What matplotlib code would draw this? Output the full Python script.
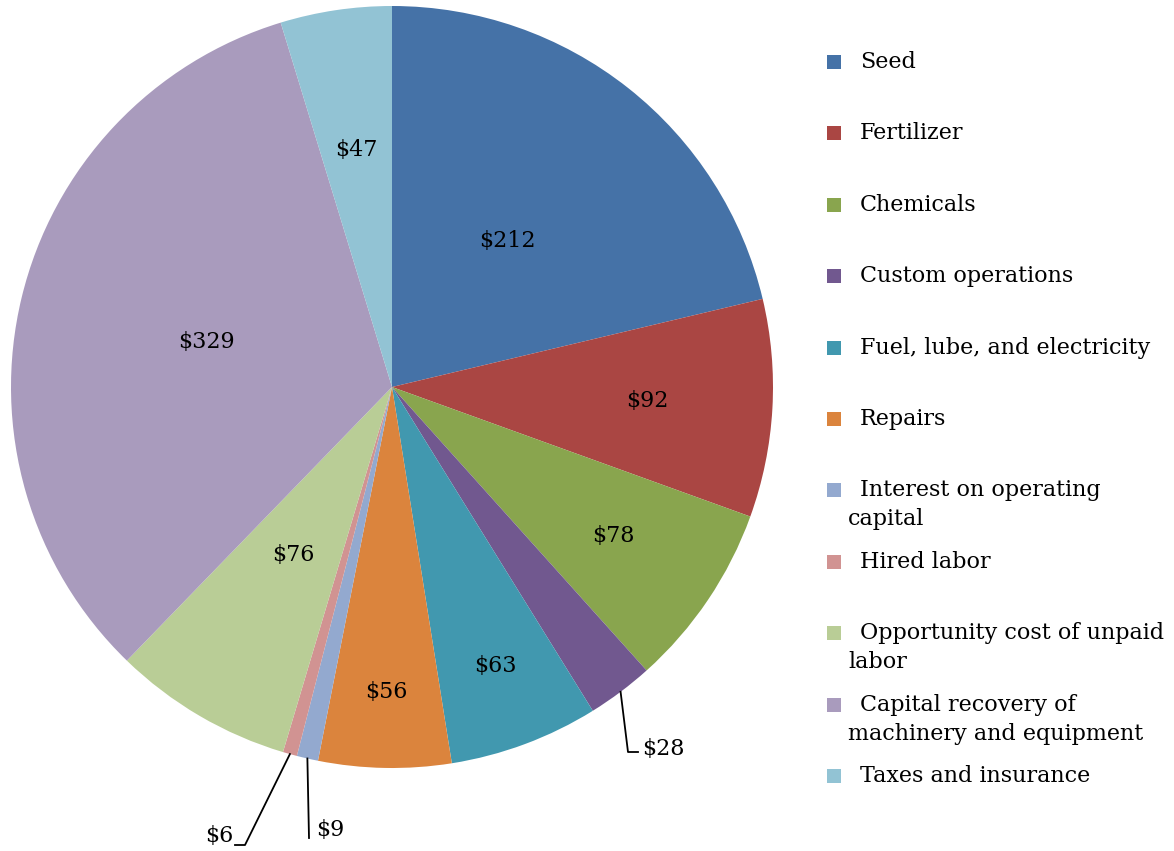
import numpy as np
import matplotlib.pyplot as plt
from matplotlib.patches import Rectangle

# cost items (per acre), clockwise from 12 o'clock
items = ['Seed', 'Fertilizer', 'Chemicals', 'Custom operations',
         'Fuel, lube, and electricity', 'Repairs',
         'Interest on operating\ncapital', 'Hired labor',
         'Opportunity cost of unpaid\nlabor',
         'Capital recovery of\nmachinery and equipment',
         'Taxes and insurance']
costs = [212, 92, 78, 28, 63, 56, 9, 6, 76, 329, 47]
colors = ['#4572A7', '#AA4643', '#89A54E', '#71588F', '#4198AF', '#DB843D',
          '#93A9CF', '#D19392', '#B9CD96', '#A99BBD', '#92C3D4']

W, H = 1174, 851
cx, cy, R = 392, 387, 381
FONT = 'DejaVu Serif'
FS = 16

# label radius (fraction of R) for inside labels, None -> callout
lab_r = [0.49, 0.67, 0.70, None, 0.78, 0.80, None, None, 0.51, 0.50, 0.63]
# callout: (elbow pt, end pt, text pos, ha) in pixel coords
callouts = {3: ((628, 752), (638, 752), (642, 749), 'left'),
            6: ((309, 838), (309, 838), (316, 830), 'left'),
            7: ((245, 845), (235, 845), (233, 836), 'right')}

fig = plt.figure(figsize=(W / 100, H / 100), dpi=100)
ax = fig.add_axes([0, 0, 1, 1])
ax.set_xlim(0, W)
ax.set_ylim(0, H)
ax.axis('off')

def py(y):
    return H - y

wedges, _ = ax.pie(costs, colors=colors, startangle=90, counterclock=False,
                   radius=R, center=(cx, py(cy)), frame=True)
ax.set_xlim(0, W)
ax.set_ylim(0, H)
ax.set_aspect('equal')
ax.axis('off')

tot = float(sum(costs))
cum = np.cumsum([0] + costs)
for i, v in enumerate(costs):
    mid = (cum[i] + v / 2.0) / tot * 360.0
    ang = np.deg2rad(90 - mid)
    if lab_r[i] is not None:
        r = lab_r[i] * R
        ax.text(cx + r * np.cos(ang), py(cy) + r * np.sin(ang), '$%d' % v,
                ha='center', va='center', family=FONT, fontsize=FS)
    else:
        x0 = cx + R * np.cos(ang)
        y0 = py(cy) + R * np.sin(ang)
        (ex, ey), (fx, fy), (tx, ty), ha = callouts[i]
        ax.plot([x0, ex, fx], [y0, py(ey), py(fy)], color='black', lw=1.3)
        ax.text(tx, py(ty), '$%d' % v, ha=ha, va='center',
                family=FONT, fontsize=FS)

# legend
for i, name in enumerate(items):
    y = 62 + 71.4 * i
    ax.add_patch(Rectangle((827, py(y) - 7), 14, 14, color=colors[i], lw=0))
    lines = name.split('\n')
    ax.text(860, py(y), lines[0], ha='left', va='center',
            family=FONT, fontsize=FS)
    for k, ln in enumerate(lines[1:]):
        ax.text(848, py(y + 29 * (k + 1)), ln, ha='left', va='center',
                family=FONT, fontsize=FS)

fig.savefig('out.png', dpi=100)
